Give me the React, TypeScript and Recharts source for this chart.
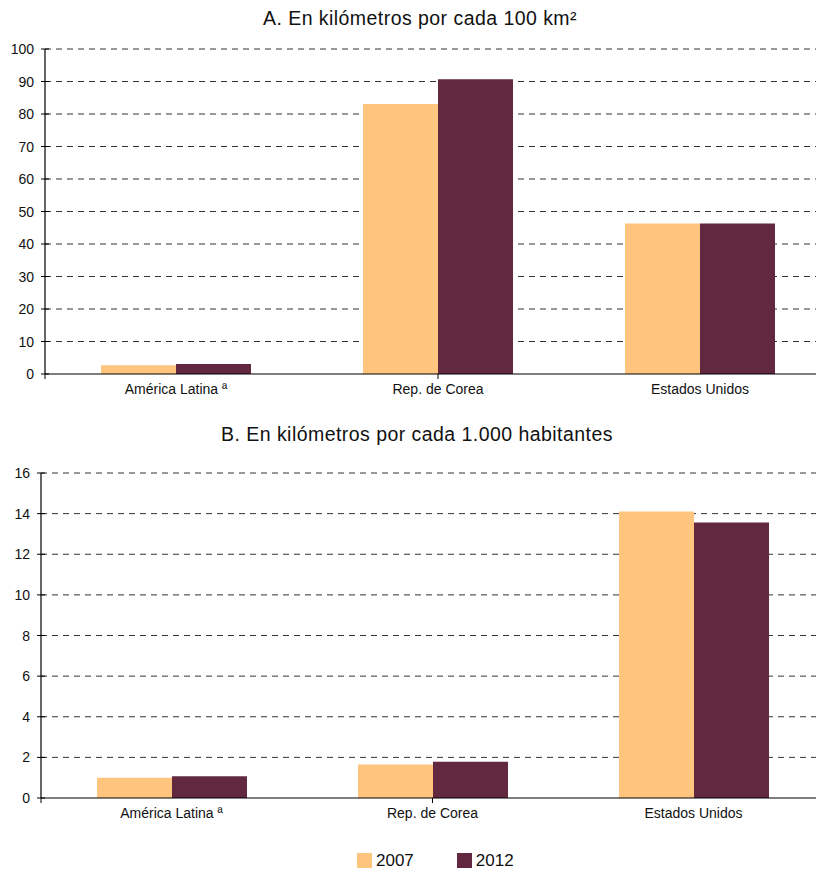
import React from 'react';
import { BarChart, Bar, XAxis, YAxis, CartesianGrid } from 'recharts';

const categories = ['América Latina ª', 'Rep. de Corea', 'Estados Unidos'];
const seriesNames = ['2007', '2012'];
const seriesColors = ['#FDC57D', '#62283F'];

const areaValues2007 = [2.7, 83.1, 46.3];
const areaValues2012 = [3.1, 90.7, 46.3];
const popValues2007 = [1.0, 1.65, 14.1];
const popValues2012 = [1.07, 1.78, 13.56];

const areaTicks = [0, 10, 20, 30, 40, 50, 60, 70, 80, 90, 100];
const popTicks = [0, 2, 4, 6, 8, 10, 12, 14, 16];
const boundaryTicks = [0, 1, 2, 3];

const titleA = 'A. En kilómetros por cada 100 km²';
const titleB = 'B. En kilómetros por cada 1.000 habitantes';

const FONT = '"Liberation Sans", Arial, sans-serif';

const buildRows = (a: number[], b: number[]) =>
  categories.map((c, i) => ({ cat: c, s2007: a[i], s2012: b[i] }));

const areaData = buildRows(areaValues2007, areaValues2012);
const popData = buildRows(popValues2007, popValues2012);

const TICK_SIZE = 4;
const TICK_MARGIN = 7;

const YTick = (props: any) => {
  const { x, y, payload } = props;
  const axisX = x + TICK_SIZE + TICK_MARGIN;
  return (
    <g>
      <line x1={axisX - 4} x2={axisX + 4} y1={y} y2={y} stroke="#000" strokeWidth={1} />
      <text x={x} y={y} dy={5} textAnchor="end" fontSize={14} fontFamily={FONT} fill="#111">
        {payload.value}
      </text>
    </g>
  );
};

const CatTick = (props: any) => {
  const { x, y, payload } = props;
  return (
    <text x={x} y={y} dy={19} textAnchor="middle" fontSize={14} fontFamily={FONT} fill="#111">
      {payload.value}
    </text>
  );
};

type PanelProps = {
  data: any[];
  width: number;
  yWidth: number;
  ticks: number[];
  max: number;
};

const Panel = ({ data, width, yWidth, ticks, max }: PanelProps) => (
  <BarChart
    width={width}
    height={410}
    data={data}
    margin={{ top: 49, right: 9, left: 0, bottom: 5 }}
    barGap={0}
    barSize={75}
  >
    <CartesianGrid
      vertical={false}
      stroke="#333"
      strokeDasharray="6 5"
      xAxisId="cat"
      horizontalValues={ticks.filter((t) => t !== 0)}
    />
    <XAxis
      xAxisId="bounds"
      type="number"
      domain={[0, 3]}
      ticks={boundaryTicks}
      allowDataOverflow
      height={1}
      axisLine={{ stroke: '#000', strokeWidth: 1.2 }}
      tickLine={{ stroke: '#000' }}
      tickSize={5}
      tickFormatter={() => ''}
    />
    <XAxis
      xAxisId="cat"
      dataKey="cat"
      type="category"
      height={30}
      axisLine={false}
      tickLine={false}
      tickSize={0}
      tickMargin={0}
      tick={<CatTick />}
      interval={0}
    />
    <YAxis
      width={yWidth}
      domain={[0, max]}
      ticks={ticks}
      interval={0}
      axisLine={{ stroke: '#000', strokeWidth: 1.2 }}
      tickLine={false}
      tickSize={TICK_SIZE}
      tickMargin={TICK_MARGIN}
      tick={<YTick />}
    />
    <Bar xAxisId="cat" dataKey="s2007" name={seriesNames[0]} fill={seriesColors[0]} isAnimationActive={false} />
    <Bar xAxisId="cat" dataKey="s2012" name={seriesNames[1]} fill={seriesColors[1]} isAnimationActive={false} />
  </BarChart>
);

export default function App() {
  return (
    <div
      style={{
        position: 'absolute',
        left: 0,
        top: 0,
        width: 816,
        height: 869,
        overflow: 'hidden',
        background: '#fff',
        fontFamily: FONT,
        color: '#111',
      }}
    >
      <div
        style={{
          position: 'absolute',
          left: 0,
          top: 8,
          width: 840,
          textAlign: 'center',
          fontSize: 19.5,
          lineHeight: '21px',
          letterSpacing: 0.45,
          whiteSpace: 'nowrap',
        }}
      >
        {titleA}
      </div>
      <div style={{ position: 'absolute', left: 0, top: 0 }}>
        <Panel data={areaData} width={840} yWidth={45} ticks={areaTicks} max={100} />
      </div>

      <div
        style={{
          position: 'absolute',
          left: 0,
          top: 424,
          width: 834,
          textAlign: 'center',
          fontSize: 19.5,
          lineHeight: '21px',
          letterSpacing: 0.45,
          whiteSpace: 'nowrap',
        }}
      >
        {titleB}
      </div>
      <div style={{ position: 'absolute', left: 0, top: 424 }}>
        <Panel data={popData} width={833} yWidth={41} ticks={popTicks} max={16} />
      </div>

      <div
        style={{
          position: 'absolute',
          left: 357,
          top: 852,
          display: 'flex',
          alignItems: 'center',
          height: 17,
        }}
      >
        {seriesNames.map((name, i) => (
          <div key={name} style={{ display: 'flex', alignItems: 'center', marginRight: 43 }}>
            <div style={{ width: 15, height: 15, background: seriesColors[i], marginRight: 4 }} />
            <span style={{ fontSize: 17, lineHeight: '17px' }}>{name}</span>
          </div>
        ))}
      </div>
    </div>
  );
}
